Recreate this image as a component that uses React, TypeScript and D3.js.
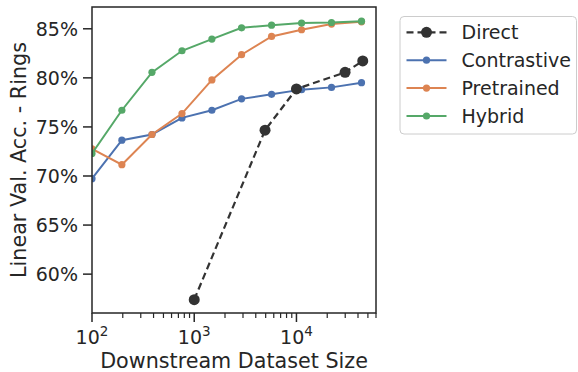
import React from 'react';
import * as d3 from 'd3';

// dataset sizes
const sizes = [100, 196, 386, 759, 1489, 2905, 5710, 11220, 22030, 43300];
const directSizes = [1000, 4930, 10000, 29900, 44500];

const directAcc = [57.4, 74.67, 78.87, 80.56, 81.72];
const contrastiveAcc = [69.73, 73.65, 74.23, 75.92, 76.7, 77.86, 78.32, 78.8, 79.03, 79.51];
const pretrainedAcc = [72.77, 71.15, 74.23, 76.36, 79.79, 82.36, 84.22, 84.9, 85.48, 85.71];
const hybridAcc = [72.3, 76.7, 80.56, 82.76, 83.95, 85.1, 85.37, 85.58, 85.64, 85.78];

const yTicks = [60, 65, 70, 75, 80, 85];
const xMajor = [2, 3, 4];
const legendLabels = ['Direct', 'Contrastive', 'Pretrained', 'Hybrid'];

const W = 578;
const H = 372;
const plot = { left: 92, right: 376, top: 7, bottom: 313 };
const ink = '#262626';
const font = 'DejaVu Sans';

interface Series {
  name: string;
  xs: number[];
  ys: number[];
  color: string;
  dashed: boolean;
  r: number;
}

const series: Series[] = [
  { name: 'Contrastive', xs: sizes, ys: contrastiveAcc, color: '#4c72b0', dashed: false, r: 3.6 },
  { name: 'Pretrained', xs: sizes, ys: pretrainedAcc, color: '#dd8452', dashed: false, r: 3.6 },
  { name: 'Hybrid', xs: sizes, ys: hybridAcc, color: '#55a868', dashed: false, r: 3.6 },
  { name: 'Direct', xs: directSizes, ys: directAcc, color: '#333333', dashed: true, r: 5.5 },
];

const App: React.FC = () => {
  const x = d3.scaleLog().domain([100, 60000]).range([plot.left, plot.right]);
  const y = d3.scaleLinear().domain([56.04, 87.22]).range([plot.bottom, plot.top]);

  // minor ticks on the log axis
  const minor: number[] = [];
  for (let e = 2; e <= 4; e++) {
    for (let m = 2; m <= 9; m++) {
      const v = m * Math.pow(10, e);
      if (v <= 60000) minor.push(v);
    }
  }

  const line = (s: Series) =>
    d3.line<number>()
      .x((_, i) => x(s.xs[i]))
      .y(d => y(d))(s.ys) || '';

  const legendRows = legendLabels.map(name => series.find(s => s.name === name)!);

  return (
    <svg width={W} height={H} style={{ position: 'absolute', left: 0, top: 0 }} fontFamily={font}>
      <defs>
        <clipPath id="plotclip">
          <rect x={plot.left} y={plot.top} width={plot.right - plot.left} height={plot.bottom - plot.top} />
        </clipPath>
      </defs>
      <rect width={W} height={H} fill="white" />

      <g clipPath="url(#plotclip)">
        {series.map(s => (
          <g key={s.name}>
            <path d={line(s)} fill="none" stroke={s.color} strokeWidth={s.dashed ? 2.2 : 2}
              strokeDasharray={s.dashed ? '7,4' : undefined} />
            {s.ys.map((v, i) => (
              <circle key={i} cx={x(s.xs[i])} cy={y(v)} r={s.r} fill={s.color} />
            ))}
          </g>
        ))}
      </g>

      {/* spines */}
      <rect x={plot.left} y={plot.top} width={plot.right - plot.left} height={plot.bottom - plot.top}
        fill="none" stroke={ink} strokeWidth={1.5} />

      {/* y axis */}
      {yTicks.map(t => (
        <g key={t}>
          <line x1={plot.left - 9} x2={plot.left} y1={y(t)} y2={y(t)} stroke={ink} strokeWidth={1.5} />
          <text x={plot.left - 14} y={y(t)} dy="0.36em" textAnchor="end" fontSize={19} fill={ink}>{`${t}%`}</text>
        </g>
      ))}

      {/* x axis */}
      {minor.map(v => (
        <line key={v} x1={x(v)} x2={x(v)} y1={plot.bottom} y2={plot.bottom + 5} stroke={ink} strokeWidth={1.2} />
      ))}
      {xMajor.map(e => (
        <g key={e}>
          <line x1={x(Math.pow(10, e))} x2={x(Math.pow(10, e))} y1={plot.bottom} y2={plot.bottom + 9} stroke={ink} strokeWidth={1.5} />
          <text x={x(Math.pow(10, e))} y={344} textAnchor="middle" fontSize={19} fill={ink}>
            10<tspan fontSize={13.5} dy={-8}>{e}</tspan>
          </text>
        </g>
      ))}

      <text x={(plot.left + plot.right) / 2} y={368} textAnchor="middle" fontSize={20.7} fill={ink}>
        Downstream Dataset Size
      </text>
      <text transform={`translate(26,${(plot.top + plot.bottom) / 2}) rotate(-90)`} textAnchor="middle"
        fontSize={20.7} fill={ink}>
        Linear Val. Acc. - Rings
      </text>

      {/* legend */}
      <rect x={400} y={16.5} width={176.5} height={117.5} rx={4} fill="white" stroke="#cccccc" strokeWidth={1} />
      {legendRows.map((s, i) => {
        const ly = 32.3 + i * 27.9;
        return (
          <g key={s.name}>
            <line x1={406.5} x2={446.5} y1={ly} y2={ly} stroke={s.color} strokeWidth={s.dashed ? 2.2 : 2}
              strokeDasharray={s.dashed ? '7,4' : undefined} />
            <circle cx={426.5} cy={ly} r={s.r} fill={s.color} />
            <text x={461.5} y={ly} dy="0.36em" fontSize={19} fill={ink}>{s.name}</text>
          </g>
        );
      })}
    </svg>
  );
};

export default App;
